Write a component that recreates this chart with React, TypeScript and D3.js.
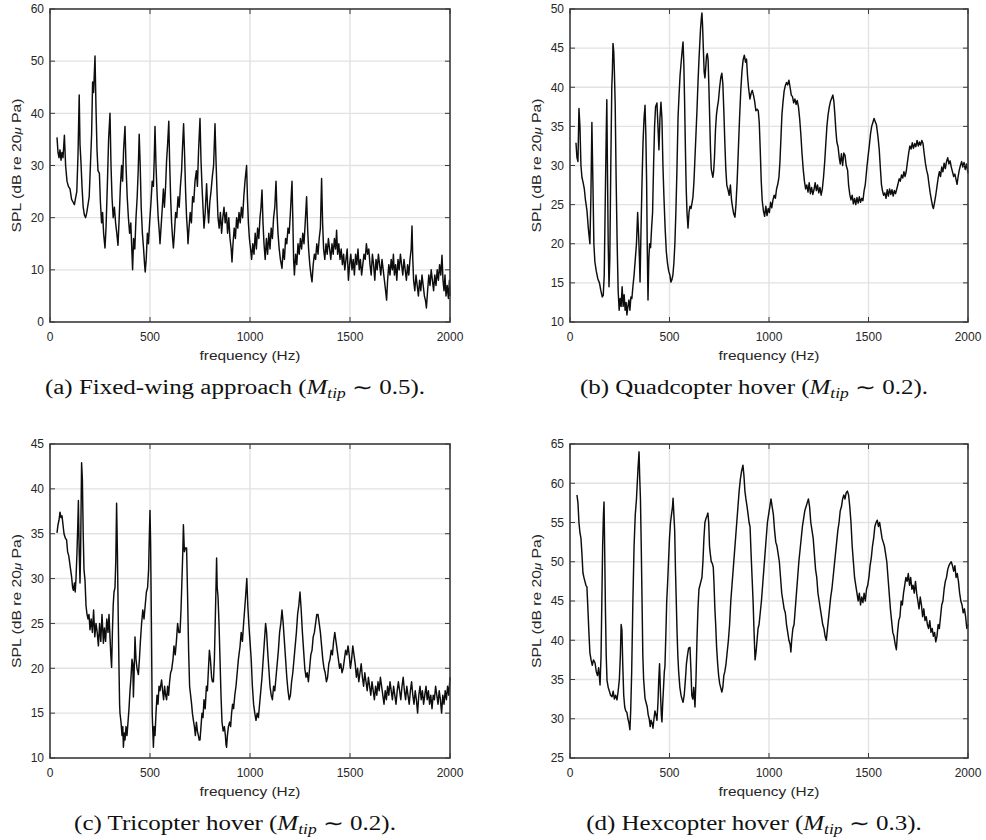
import React from 'react';
import * as d3 from 'd3';

type Pt = [number, number];

// shared axis ticks
const freqTicks = [0, 500, 1000, 1500, 2000];
const fixedWingTicks = [0, 10, 20, 30, 40, 50, 60];
const quadTicks = [10, 15, 20, 25, 30, 35, 40, 45, 50];
const triTicks = [10, 15, 20, 25, 30, 35, 40, 45];
const hexTicks = [25, 30, 35, 40, 45, 50, 55, 60, 65];

// spectra: [frequency (Hz), SPL (dB)]
const fixedWing: Pt[] = [
  [35, 35.4], [40, 32.5], [45, 31.5], [50, 33], [55, 31], [60, 32.5], [65, 31.5], [72, 35.8], [78, 30], [85, 27],
  [92, 26], [100, 25.5], [108, 23.5], [115, 23], [122, 22.5], [128, 23.8], [134, 25], [140, 32], [146, 43.5], [150, 34],
  [155, 30.5], [160, 26], [166, 22], [172, 20.5], [178, 20], [184, 21], [190, 22.5], [196, 24], [202, 30], [208, 36],
  [213, 46], [218, 44], [225, 51], [230, 41], [235, 33], [240, 29], [247, 28.5], [252, 23], [258, 19], [263, 21],
  [268, 17], [275, 14.2], [280, 18], [285, 24], [288, 28], [293, 35], [300, 40], [305, 30], [310, 24], [316, 20],
  [322, 22], [328, 19], [334, 17], [340, 14.7], [346, 20], [352, 26], [358, 30], [363, 27], [368, 33], [375, 37.5],
  [380, 30], [386, 24], [392, 20], [398, 17], [404, 19], [410, 13], [413, 10], [418, 16], [424, 14], [430, 20],
  [436, 24], [441, 29], [446, 36], [451, 30], [456, 22], [462, 17], [468, 14], [473, 11], [476, 9.6], [481, 12],
  [487, 17], [492, 15], [498, 19], [505, 23], [511, 27], [517, 26], [521, 31], [525, 37.5], [530, 30], [536, 24],
  [541, 20], [547, 17], [550, 15], [555, 18], [560, 21], [567, 25.5], [572, 22], [578, 26], [583, 31], [588, 34],
  [594, 38.5], [598, 31], [603, 24], [608, 19], [613, 16], [617, 14.2], [622, 17], [628, 21], [634, 20], [640, 24],
  [646, 22], [652, 26], [658, 29], [662, 33], [668, 38], [673, 32], [678, 25], [683, 20], [688, 17], [690, 15],
  [695, 18], [701, 21], [707, 19], [713, 24], [719, 23], [725, 27], [732, 29], [737, 26], [743, 33], [750, 39],
  [755, 31], [760, 26], [765, 22], [770, 18], [776, 21], [783, 26.5], [788, 22], [793, 19], [799, 23], [805, 25],
  [812, 28], [818, 30], [825, 38], [830, 31], [835, 25], [840, 20], [846, 18], [852, 21], [858, 17], [864, 20],
  [870, 22], [876, 19], [882, 21], [888, 17], [894, 20], [900, 16], [906, 14], [910, 11.5], [915, 15], [921, 18],
  [927, 16], [933, 20], [939, 18], [945, 21], [951, 19], [957, 22], [963, 20], [969, 24], [975, 27], [983, 30],
  [987, 24], [992, 19], [997, 16], [1003, 14], [1008, 12], [1014, 15], [1020, 13], [1026, 17], [1032, 14], [1038, 18],
  [1044, 16], [1050, 20], [1055, 22], [1060, 25.3], [1065, 19], [1070, 15], [1076, 12], [1082, 16], [1088, 13], [1094, 17],
  [1100, 14], [1106, 18], [1112, 16], [1118, 20], [1124, 22], [1130, 27], [1135, 21], [1140, 17], [1146, 14], [1152, 12],
  [1160, 10.3], [1166, 14], [1172, 12], [1178, 16], [1184, 15], [1190, 18], [1196, 17], [1202, 21], [1210, 27], [1214, 20],
  [1218, 12], [1222, 9], [1228, 13], [1234, 11], [1240, 15], [1246, 13], [1252, 16], [1258, 14], [1264, 17], [1270, 15],
  [1276, 19], [1283, 24], [1288, 18], [1293, 14], [1299, 11], [1305, 9], [1310, 7.7], [1316, 11], [1322, 13], [1328, 12],
  [1334, 15], [1340, 13], [1346, 16], [1352, 18], [1358, 27.5], [1363, 19], [1368, 14], [1374, 12], [1380, 15], [1386, 13],
  [1392, 16], [1398, 14], [1404, 12], [1410, 15], [1416, 13], [1422, 16], [1428, 14], [1433, 17.6], [1438, 13], [1444, 15],
  [1450, 12], [1456, 14], [1462, 11], [1468, 13], [1474, 10], [1480, 12], [1486, 14], [1492, 8], [1498, 11], [1504, 13],
  [1510, 10], [1516, 12], [1522, 9], [1528, 13], [1534, 11], [1540, 14], [1546, 10], [1552, 12], [1558, 9], [1564, 11],
  [1570, 13], [1576, 12], [1582, 15], [1588, 13], [1594, 14], [1600, 11], [1606, 9], [1612, 13], [1618, 11], [1624, 8],
  [1630, 12], [1636, 10], [1642, 13], [1648, 11], [1654, 9], [1660, 12], [1666, 10], [1672, 8], [1678, 6], [1683, 4.2],
  [1688, 8], [1694, 11], [1700, 9], [1706, 12], [1712, 10], [1717, 13], [1722, 9], [1728, 11], [1734, 8], [1740, 12],
  [1746, 10], [1752, 13], [1758, 11], [1764, 9], [1770, 12], [1776, 10], [1782, 8], [1788, 11], [1794, 9], [1800, 12],
  [1806, 14], [1810, 18.4], [1814, 12], [1818, 8], [1824, 6], [1830, 9], [1836, 7], [1842, 5], [1848, 8], [1854, 6],
  [1860, 9], [1866, 7], [1872, 5], [1878, 4], [1882, 2.7], [1888, 6], [1894, 9], [1900, 7], [1906, 10], [1912, 8],
  [1918, 6], [1924, 9], [1930, 7], [1936, 10], [1942, 8], [1948, 11], [1954, 9], [1960, 12.8], [1965, 8], [1970, 6],
  [1975, 9], [1980, 5], [1986, 7], [1992, 4.5], [1997, 8], [2000, 5],
];

const quadcopter: Pt[] = [
  [30, 32.9], [35, 31], [40, 30.5], [45, 37.3], [50, 35], [55, 30], [60, 28.5], [66, 27.8], [72, 27], [78, 25.5],
  [85, 24.3], [92, 22], [100, 20], [105, 26], [110, 35.5], [115, 28], [120, 20], [125, 17.7], [132, 16.5], [140, 15.5],
  [148, 15], [155, 14], [162, 13.2], [167, 13.4], [172, 16], [178, 27], [182, 34], [185, 38.4], [188, 30], [192, 20],
  [196, 14.5], [200, 18], [205, 30], [210, 40], [213, 42], [216, 45.6], [220, 44.5], [223, 42], [227, 38], [232, 28],
  [237, 20], [242, 14], [247, 11.5], [252, 13], [257, 12], [262, 14.5], [267, 12], [272, 13.5], [277, 11.5], [282, 12.5],
  [286, 10.9], [291, 12], [296, 12.8], [301, 11.5], [306, 13.2], [311, 13], [316, 14.5], [322, 16], [328, 18], [334, 20],
  [340, 24], [345, 21], [349, 18], [352, 15.1], [357, 22], [362, 28], [367, 33], [372, 36], [377, 37.7], [381, 34],
  [385, 28], [388, 20], [392, 12.8], [396, 18], [400, 20], [405, 19.5], [410, 22], [415, 24], [420, 30], [425, 35],
  [430, 37.5], [437, 38], [442, 35], [447, 32], [452, 36], [457, 38.1], [462, 36], [467, 30], [472, 26], [478, 22],
  [484, 19], [490, 17.5], [496, 16.5], [502, 16], [507, 15.1], [512, 15.4], [517, 16], [522, 17.5], [527, 20], [532, 24],
  [537, 29], [543, 36.2], [548, 39], [553, 41.5], [558, 43], [563, 44.5], [568, 45.8], [572, 43], [576, 38], [580, 32],
  [584, 27], [588, 24], [593, 22], [598, 24], [603, 24.8], [608, 24.5], [613, 25.2], [618, 26], [623, 28], [628, 31],
  [633, 34], [638, 37], [643, 40.5], [648, 43.5], [652, 45.5], [656, 47.5], [660, 48.8], [663, 49.5], [666, 48], [670, 45],
  [674, 42], [678, 41.2], [682, 42.5], [686, 44], [690, 44.3], [694, 43.5], [698, 40], [702, 36], [706, 32], [710, 29.5],
  [714, 29], [718, 28.5], [722, 29.3], [726, 31], [731, 34.5], [736, 36.5], [741, 37.5], [746, 38.3], [752, 40], [758, 41.3],
  [763, 41.8], [768, 40.5], [773, 37], [778, 33], [783, 29.5], [788, 27.5], [794, 26.9], [800, 26.2], [806, 27.5], [812, 25.5],
  [818, 24.5], [823, 23.8], [829, 23.4], [834, 25], [840, 28], [846, 32], [852, 36], [858, 39.5], [864, 42], [870, 43.5],
  [876, 44.1], [882, 43.2], [887, 43.6], [892, 41.5], [897, 40], [904, 38.5], [910, 39.2], [916, 39.6], [922, 39], [928, 38.2],
  [934, 37], [940, 37.2], [946, 37], [951, 35.5], [956, 32], [961, 28], [966, 25.5], [972, 24.2], [978, 23.5], [984, 24.8],
  [990, 23.6], [996, 24.5], [1002, 24], [1008, 25.3], [1014, 24.6], [1020, 25.6], [1026, 26.2], [1032, 25.8], [1038, 27], [1044, 27.6],
  [1050, 28.5], [1055, 30.5], [1060, 33.5], [1065, 36.5], [1070, 38], [1076, 39.5], [1082, 40.2], [1088, 40.6], [1094, 40.3], [1100, 40.9],
  [1106, 40], [1112, 39], [1118, 38.8], [1124, 38], [1130, 38.5], [1136, 37.8], [1142, 38.3], [1148, 37.5], [1154, 36], [1160, 34],
  [1166, 31.5], [1172, 29.5], [1178, 28], [1184, 27], [1190, 27.5], [1196, 26.6], [1202, 27.8], [1208, 26.4], [1214, 27.2], [1220, 26.3],
  [1226, 26.9], [1232, 27.8], [1238, 26.8], [1244, 27.5], [1250, 26.5], [1256, 27.2], [1262, 26.2], [1268, 27], [1274, 28.5], [1280, 30.5],
  [1286, 33], [1291, 35], [1297, 36.5], [1303, 37.5], [1309, 38.2], [1315, 38.6], [1321, 39], [1326, 38.2], [1331, 36.5], [1336, 34.5],
  [1341, 33], [1347, 32.4], [1353, 31], [1358, 30.2], [1364, 31.5], [1370, 30], [1376, 31.6], [1382, 31.3], [1388, 30], [1395, 29.4],
  [1400, 27.5], [1406, 26.3], [1412, 25.6], [1418, 26.2], [1424, 25.1], [1430, 25.8], [1436, 25], [1442, 25.9], [1448, 25.2], [1454, 26],
  [1460, 25.3], [1466, 25.8], [1472, 25.5], [1478, 26.8], [1484, 27.6], [1492, 29.8], [1498, 31.2], [1504, 32.5], [1510, 34], [1516, 35],
  [1522, 35.5], [1528, 36], [1534, 35.6], [1540, 35.2], [1548, 33.6], [1554, 32], [1560, 29.5], [1565, 27.6], [1570, 26.8], [1576, 26.2],
  [1582, 26.5], [1588, 25.8], [1594, 26.9], [1600, 26.1], [1606, 27], [1612, 26.3], [1618, 26.9], [1624, 26.1], [1630, 26.8], [1636, 26.4],
  [1642, 27], [1648, 27.6], [1654, 28.3], [1660, 28], [1666, 28.8], [1672, 28.4], [1678, 29.2], [1684, 28.6], [1690, 29.3], [1696, 30.5],
  [1702, 31.6], [1708, 32.5], [1714, 32.1], [1720, 32.9], [1726, 32.2], [1732, 32.8], [1738, 32.4], [1744, 33.2], [1750, 32.5], [1756, 33],
  [1762, 32.6], [1768, 33.2], [1774, 32.8], [1780, 31.5], [1786, 30.3], [1792, 29.4], [1798, 28.8], [1804, 27.6], [1810, 26.5], [1816, 25.6],
  [1822, 24.8], [1826, 24.5], [1832, 25.3], [1838, 26.2], [1844, 27.3], [1850, 28.4], [1856, 29.2], [1862, 28.6], [1868, 29.8], [1874, 29.2],
  [1880, 30.3], [1886, 29.6], [1892, 30.5], [1898, 31], [1904, 30.2], [1910, 30.6], [1916, 29.8], [1922, 29.2], [1928, 28.6], [1934, 28.9],
  [1940, 28.2], [1945, 27.6], [1950, 28.5], [1956, 29.4], [1962, 30], [1968, 30.5], [1974, 29.8], [1980, 30.4], [1986, 29.5], [1992, 30.2],
  [2000, 29],
];

const tricopter: Pt[] = [
  [35, 35.1], [40, 36], [45, 36.5], [50, 37.4], [55, 36.8], [60, 37], [65, 36], [70, 35], [77, 34.5], [83, 34.3],
  [88, 33], [94, 32.5], [100, 31.5], [108, 30.2], [113, 29], [117, 28.7], [122, 29.5], [126, 28.5], [130, 30], [135, 33],
  [139, 36], [142, 38.7], [146, 33], [150, 29.5], [153, 33], [156, 39], [158, 42.9], [162, 41], [166, 35], [170, 31],
  [175, 29.8], [180, 27], [185, 26], [190, 25.5], [195, 26], [200, 24.3], [206, 25.5], [212, 24], [218, 26.5], [224, 23.5],
  [230, 25], [236, 24], [242, 22.5], [248, 25], [254, 23], [260, 26], [267, 22.8], [272, 24.5], [278, 23], [284, 25.5],
  [290, 24], [295, 26], [300, 23.5], [304, 21.5], [308, 20.1], [312, 24], [316, 27], [320, 28.5], [325, 29], [329, 32],
  [333, 38.4], [337, 33], [341, 26], [345, 20], [348, 16], [350, 15], [355, 14], [360, 12.5], [364, 13.5], [367, 11.2],
  [371, 12.8], [375, 12], [380, 13.5], [385, 12.5], [390, 14], [395, 15.5], [400, 17.5], [405, 19], [410, 21], [414, 20.5],
  [417, 16.8], [420, 19], [425, 23.5], [430, 21], [435, 20], [442, 19.3], [447, 21], [452, 23], [458, 25], [464, 26.5],
  [470, 25.5], [476, 27], [482, 28.5], [488, 29], [493, 31], [497, 35], [500, 37.6], [503, 34], [507, 25], [511, 15],
  [514, 13], [517, 11.2], [521, 13.5], [525, 12.5], [530, 15], [535, 17], [540, 16], [545, 18], [550, 17.5], [558, 18.7],
  [563, 17.5], [568, 16.5], [573, 18], [578, 17], [583, 16.5], [588, 18], [593, 17], [598, 18.5], [603, 19.5], [608, 19.8],
  [615, 21], [620, 22.5], [626, 21.5], [632, 23], [638, 25], [644, 24], [650, 24], [655, 26.5], [660, 30], [664, 33],
  [667, 36], [672, 33], [677, 33.4], [683, 33.4], [688, 28], [693, 22], [698, 18], [703, 17], [708, 16], [712, 15],
  [717, 14.2], [722, 13.5], [727, 12.5], [732, 14], [737, 13], [742, 12.5], [746, 12], [750, 12], [755, 13.5], [760, 15],
  [765, 14.5], [770, 16.5], [776, 15.5], [782, 18], [787, 17.5], [792, 19.8], [797, 22], [802, 21], [808, 19], [812, 18.5],
  [817, 18.5], [822, 21], [826, 25], [830, 29], [833, 32.3], [836, 29], [840, 28], [845, 25], [850, 21], [855, 17],
  [860, 14], [866, 13], [872, 13.5], [877, 12.5], [880, 11.5], [883, 11.2], [887, 12.5], [892, 13.5], [898, 14], [903, 13.5],
  [908, 15], [913, 16], [918, 15.5], [924, 17], [930, 18], [936, 19.5], [942, 21], [950, 22.4], [956, 24], [962, 23],
  [968, 25], [973, 26.5], [978, 28], [984, 30], [989, 27], [994, 25], [1000, 23], [1006, 21], [1012, 18], [1018, 16],
  [1024, 15], [1030, 14.2], [1036, 15], [1042, 14.5], [1048, 16], [1054, 17.5], [1060, 19], [1066, 21], [1072, 23], [1078, 25],
  [1083, 24], [1088, 22], [1094, 20], [1100, 18], [1106, 17], [1112, 16.5], [1118, 18], [1124, 17.5], [1130, 19], [1136, 20.5],
  [1142, 22], [1148, 24], [1154, 25], [1160, 26.5], [1166, 25], [1172, 23], [1178, 21], [1184, 19], [1190, 17.5], [1196, 16.5],
  [1202, 17], [1208, 18.5], [1214, 19.5], [1220, 21], [1226, 22.5], [1232, 24], [1238, 26], [1244, 27], [1250, 28.5], [1256, 26.5],
  [1262, 24], [1268, 22], [1274, 20], [1280, 19], [1286, 19.5], [1292, 18.5], [1298, 20], [1304, 21.5], [1310, 22], [1316, 23.5],
  [1322, 24], [1328, 25], [1334, 26], [1340, 26], [1346, 25], [1352, 24], [1358, 22.5], [1364, 21], [1370, 20], [1376, 19.5],
  [1382, 18.5], [1388, 19], [1394, 20.5], [1400, 21], [1406, 22], [1412, 21.5], [1418, 23], [1424, 24], [1430, 23], [1436, 22],
  [1442, 21], [1448, 20], [1454, 20.5], [1460, 19.5], [1466, 20], [1472, 21], [1478, 22], [1484, 21.5], [1490, 22.5], [1496, 21.5],
  [1502, 20], [1508, 21], [1514, 22.5], [1520, 21.5], [1526, 20.5], [1532, 19], [1538, 20], [1544, 18.5], [1550, 19.5], [1556, 20.5],
  [1562, 19], [1568, 18], [1574, 19.5], [1580, 18.5], [1586, 17.5], [1592, 19], [1598, 18], [1604, 17], [1610, 18.5], [1616, 17.5],
  [1622, 16.5], [1628, 18], [1634, 17], [1640, 18.5], [1646, 17.5], [1652, 19], [1658, 18], [1664, 17], [1670, 16], [1676, 17.5],
  [1682, 16.5], [1688, 18], [1694, 17], [1700, 18.5], [1706, 17.5], [1712, 16.5], [1718, 18], [1724, 17], [1730, 16], [1736, 17.5],
  [1742, 18.5], [1748, 17.5], [1754, 16.5], [1760, 18], [1766, 19], [1772, 17.5], [1778, 16.5], [1784, 18], [1790, 17], [1796, 16],
  [1802, 17.5], [1808, 18.5], [1814, 17], [1820, 16], [1826, 17.5], [1832, 16.5], [1838, 15], [1844, 17], [1850, 18], [1856, 16.5],
  [1862, 17.5], [1868, 16], [1874, 17], [1880, 18], [1886, 16.5], [1892, 17.5], [1898, 16], [1904, 17], [1910, 15.5], [1916, 17],
  [1922, 16.5], [1928, 18], [1934, 17], [1940, 16], [1946, 17.5], [1952, 16.5], [1958, 15], [1964, 17], [1970, 16], [1976, 17.5],
  [1982, 16.5], [1988, 18], [1994, 17], [2000, 19],
];

const hexcopter: Pt[] = [
  [35, 58.5], [40, 57.5], [45, 55], [50, 53.7], [55, 53], [60, 51], [65, 48.6], [70, 48], [75, 47.5], [80, 47],
  [85, 46.8], [90, 44], [95, 41], [100, 38.4], [106, 37.5], [112, 36.8], [118, 37.5], [126, 37.1], [132, 36], [138, 35.5],
  [144, 36.5], [151, 34.3], [156, 38], [160, 45], [164, 52], [168, 56], [171, 57.6], [174, 52], [178, 44], [182, 38],
  [186, 34.9], [192, 34], [198, 33.5], [204, 33], [211, 32.8], [217, 33.5], [223, 32.5], [229, 33], [236, 32.4], [242, 33.5],
  [248, 35], [253, 38], [257, 42], [261, 41.3], [265, 37], [270, 33], [275, 31.5], [280, 31], [286, 30.8], [291, 30],
  [296, 29.5], [301, 28.6], [305, 31], [310, 36], [316, 45], [322, 52], [328, 56], [334, 58], [338, 60], [342, 62],
  [347, 64], [350, 61], [354, 58], [358, 52], [362, 45], [366, 38], [370, 35], [377, 32.6], [383, 32], [388, 31.5],
  [393, 30.5], [398, 30], [403, 29], [407, 29.8], [412, 29.5], [417, 28.8], [422, 30], [427, 31], [432, 30.5], [437, 29.8],
  [442, 32], [446, 35], [450, 37], [455, 33], [459, 30.5], [462, 29.6], [466, 32], [470, 34], [474, 36], [477, 36.6],
  [482, 41], [486, 45], [490, 47], [495, 50], [500, 53], [505, 55], [510, 56], [515, 57], [518, 58.1], [522, 56],
  [526, 54], [530, 49], [534, 45], [538, 41], [542, 38], [546, 36], [552, 34], [558, 33], [563, 32.5], [568, 32.1],
  [574, 33], [580, 35], [585, 37], [590, 38], [596, 39], [603, 39.1], [608, 36], [612, 33], [617, 32.5], [622, 34],
  [628, 31.5], [633, 35], [638, 40], [643, 44], [648, 46.5], [653, 47], [658, 47.5], [663, 48], [668, 50], [673, 53],
  [678, 55], [683, 55.5], [688, 55.8], [693, 56.2], [697, 55], [701, 52], [705, 51], [710, 50], [715, 49.8], [720, 49.3],
  [724, 47], [728, 44], [732, 42], [737, 39], [742, 37], [747, 35.5], [752, 34.5], [757, 34], [763, 33.4], [768, 34],
  [773, 35.5], [778, 36], [784, 37], [790, 38.5], [796, 40], [802, 42], [808, 45], [814, 47], [820, 49], [826, 51],
  [832, 53], [838, 55], [844, 57], [850, 59], [856, 60.5], [862, 61.5], [869, 62.3], [874, 61], [879, 59], [884, 58],
  [890, 57], [895, 56], [900, 55], [905, 54.4], [910, 51], [915, 48], [920, 45], [925, 41], [930, 37.5], [935, 38.5],
  [940, 40], [945, 41.5], [950, 42], [956, 43.5], [962, 45], [968, 47], [974, 49], [980, 51], [986, 53], [992, 55],
  [998, 56], [1004, 57], [1010, 58], [1016, 57], [1022, 56], [1028, 54], [1034, 52.5], [1040, 52], [1046, 51], [1052, 50],
  [1058, 48], [1064, 46], [1070, 45], [1076, 44], [1082, 43.5], [1088, 42], [1094, 41], [1100, 40], [1106, 39.5], [1110, 38.5],
  [1114, 40], [1120, 41.5], [1126, 42], [1132, 44], [1138, 46], [1144, 48], [1150, 50], [1156, 51.5], [1162, 53], [1168, 54.5],
  [1174, 55.5], [1180, 56.5], [1186, 57], [1192, 57.5], [1198, 58], [1204, 57], [1210, 55], [1216, 54], [1222, 53], [1228, 51],
  [1234, 49], [1240, 48], [1246, 46], [1252, 45], [1258, 44], [1264, 43], [1270, 42], [1276, 41.5], [1282, 40.5], [1288, 40],
  [1292, 41], [1298, 42.5], [1304, 44], [1310, 45.5], [1316, 46.5], [1322, 48], [1328, 49.5], [1334, 51], [1340, 52.5], [1346, 54],
  [1352, 55], [1358, 56.5], [1364, 57], [1370, 58], [1376, 58.5], [1382, 58], [1388, 58.8], [1394, 59], [1400, 58.5], [1406, 57],
  [1412, 55], [1418, 52], [1424, 50], [1430, 48], [1436, 47], [1442, 46], [1448, 45], [1454, 46], [1460, 44.5], [1466, 45.5],
  [1472, 44.8], [1478, 46], [1484, 45], [1490, 46.5], [1496, 47], [1502, 48], [1508, 49.5], [1514, 50.5], [1520, 52], [1526, 53],
  [1532, 54.5], [1538, 55], [1544, 55.3], [1550, 54.5], [1556, 55], [1562, 54], [1568, 53], [1574, 52.5], [1580, 52], [1586, 51],
  [1592, 50], [1598, 48], [1604, 46], [1610, 44], [1616, 42.5], [1622, 41], [1628, 40.5], [1634, 39.5], [1640, 38.8], [1646, 41],
  [1652, 42.5], [1658, 43], [1664, 45], [1670, 44.5], [1676, 46], [1682, 47], [1688, 48], [1694, 47.5], [1700, 48.5], [1706, 47],
  [1712, 48], [1718, 46.5], [1724, 47], [1730, 46], [1736, 47.5], [1742, 46], [1748, 45], [1754, 44], [1760, 45.5], [1766, 44.5],
  [1772, 43], [1778, 44], [1784, 42.5], [1790, 43], [1796, 42], [1802, 41.5], [1808, 42.5], [1814, 41], [1820, 41.5], [1826, 40.5],
  [1832, 41], [1838, 39.8], [1844, 40.5], [1850, 42], [1856, 41.5], [1862, 43], [1868, 44.5], [1874, 45], [1880, 46.5], [1886, 47.5],
  [1892, 48], [1898, 49], [1904, 49.5], [1910, 49.8], [1916, 50], [1922, 49.5], [1928, 48.8], [1934, 49.5], [1940, 48], [1946, 48.5],
  [1952, 47.5], [1958, 46], [1964, 45], [1970, 44.5], [1976, 43.5], [1982, 44], [1988, 43], [1994, 41.5], [2000, 42],
];

const SANS = '"Liberation Sans", Arial, Helvetica, sans-serif';
const SERIF = '"Liberation Serif", "Times New Roman", Times, serif';
const AXIS = '#3a3a3a';
const GRID = '#e2e2e2';
const LABEL = '#262626';

function Panel({ left, top, width, height, yTicks, data, letter, name, mach, capX }: any) {
  const x = d3.scaleLinear().domain([0, 2000]).range([left, left + width]);
  const y = d3.scaleLinear().domain([yTicks[0], yTicks[yTicks.length - 1]]).range([top + height, top]);
  const line = d3.line<Pt>().x(d => x(d[0])).y(d => y(d[1]));
  const bottom = top + height;
  const right = left + width;
  const tk = 5;

  return (
    <g>
      {/* grid */}
      {freqTicks.slice(1, -1).map(t => (
        <line key={'gx' + t} x1={x(t)} x2={x(t)} y1={top} y2={bottom} stroke={GRID} strokeWidth={1.4} />
      ))}
      {yTicks.slice(1, -1).map((t: number) => (
        <line key={'gy' + t} x1={left} x2={right} y1={y(t)} y2={y(t)} stroke={GRID} strokeWidth={1.4} />
      ))}

      {/* spectrum */}
      <path d={line(data) || ''} fill="none" stroke="#0d0d0d" strokeWidth={1.45} strokeLinejoin="round" />

      {/* inward ticks on all four sides */}
      {freqTicks.map(t => (
        <g key={'tx' + t}>
          <line x1={x(t)} x2={x(t)} y1={bottom} y2={bottom - tk} stroke={AXIS} strokeWidth={1} />
          <line x1={x(t)} x2={x(t)} y1={top} y2={top + tk} stroke={AXIS} strokeWidth={1} />
        </g>
      ))}
      {yTicks.map((t: number) => (
        <g key={'ty' + t}>
          <line x1={left} x2={left + tk} y1={y(t)} y2={y(t)} stroke={AXIS} strokeWidth={1} />
          <line x1={right} x2={right - tk} y1={y(t)} y2={y(t)} stroke={AXIS} strokeWidth={1} />
        </g>
      ))}
      <rect x={left} y={top} width={width} height={height} fill="none" stroke={AXIS} strokeWidth={1.6} />

      {/* tick labels */}
      {freqTicks.map(t => (
        <text key={'lx' + t} x={x(t)} y={bottom + 19} textAnchor="middle" fontFamily={SANS} fontSize={12} fill={LABEL}>
          {t}
        </text>
      ))}
      {yTicks.map((t: number) => (
        <text key={'ly' + t} x={left - 6} y={y(t) + 4.3} textAnchor="end" fontFamily={SANS} fontSize={12} fill={LABEL}>
          {t}
        </text>
      ))}

      {/* axis labels */}
      <text x={(left + right) / 2} y={bottom + 38} textAnchor="middle" fontFamily={SANS} fontSize={12} fill={LABEL}
        textLength={101} lengthAdjust="spacingAndGlyphs">
        frequency (Hz)
      </text>
      <text transform={`translate(${left - 29},${(top + bottom) / 2}) rotate(-90)`} textAnchor="middle"
        fontFamily={SANS} fontSize={12} fill={LABEL} textLength={134} lengthAdjust="spacingAndGlyphs">
        SPL (dB re 20<tspan fontStyle="italic" fontSize={10}>μ</tspan> Pa)
      </text>

      {/* caption */}
      <text transform={`translate(${capX},${bottom + 72}) scale(1.25,1)`} textAnchor="middle"
        fontFamily={SERIF} fontSize={20} fill="#111">
        {`(${letter}) ${name} (`}
        <tspan fontStyle="italic">M</tspan>
        <tspan fontStyle="italic" fontSize={14} dy={4}>tip</tspan>
        <tspan dy={-4}>{` \u223C ${mach}).`}</tspan>
      </text>
    </g>
  );
}

export default function App() {
  return (
    <div style={{ position: 'absolute', left: 0, top: 0, background: '#fff' }}>
      <svg width={986} height={840} style={{ display: 'block' }}>
        <rect width={986} height={840} fill="#fff" />
        <Panel left={50} top={9} width={400} height={313} yTicks={fixedWingTicks} data={fixedWing}
          letter="a" name="Fixed-wing approach" mach="0.5" capX={235} />
        <Panel left={570} top={9} width={398} height={313} yTicks={quadTicks} data={quadcopter}
          letter="b" name="Quadcopter hover" mach="0.2" capX={754} />
        <Panel left={50} top={444} width={400} height={314} yTicks={triTicks} data={tricopter}
          letter="c" name="Tricopter hover" mach="0.2" capX={235} />
        <Panel left={570} top={444} width={398} height={314} yTicks={hexTicks} data={hexcopter}
          letter="d" name="Hexcopter hover" mach="0.3" capX={754} />
      </svg>
    </div>
  );
}
